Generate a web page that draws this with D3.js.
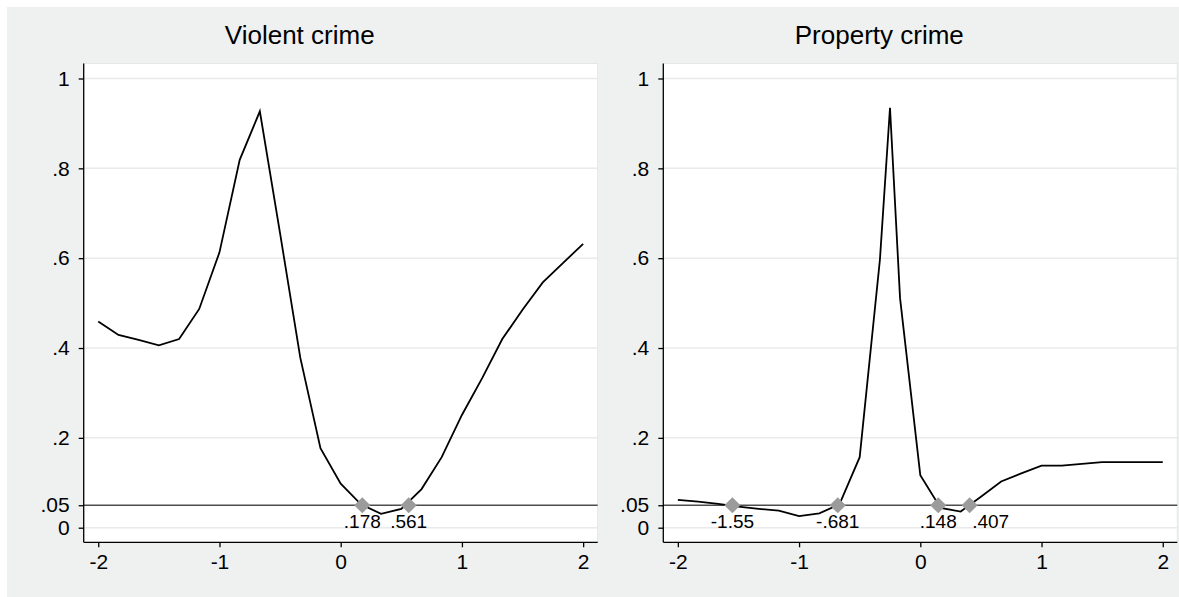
<!DOCTYPE html>
<html>
<head>
<meta charset="utf-8">
<script src="https://cdn.jsdelivr.net/npm/d3@7"></script>
<style>
  body { margin: 0; background: #fff; }
  text { font-family: Arial, "Liberation Sans", sans-serif; fill: #000; }
</style>
</head>
<body>
<div id="chart"></div>
<script>

var width = 1179;
var height = 597;

// grid of x values (steps of 1/6)
var violentX = [-2, -1.833, -1.667, -1.5, -1.333, -1.167, -1, -0.833, -0.667, -0.5, -0.333, -0.167,
                0, 0.167, 0.333, 0.5, 0.667, 0.833, 1, 1.167, 1.333, 1.5, 1.667, 1.833, 2];
var violentY = [0.459, 0.429, 0.418, 0.406, 0.420, 0.487, 0.613, 0.819, 0.927, 0.655, 0.378, 0.177,
                0.098, 0.052, 0.031, 0.042, 0.086, 0.157, 0.251, 0.333, 0.420, 0.485, 0.546, 0.589, 0.632];

var propertyX = [-2, -1.833, -1.667, -1.5, -1.333, -1.167, -1, -0.833, -0.667, -0.5, -0.333, -0.25, -0.167,
                 0, 0.167, 0.333, 0.5, 0.667, 0.833, 1, 1.167, 1.333, 1.5, 1.667, 1.833, 2];
var propertyY = [0.062, 0.058, 0.053, 0.047, 0.042, 0.038, 0.026, 0.032, 0.052, 0.157, 0.597, 0.935, 0.511,
                 0.117, 0.044, 0.036, 0.069, 0.103, 0.121, 0.138, 0.138, 0.142, 0.146, 0.146, 0.146, 0.146];

// crossing points with the .05 line
var violentCross = [0.178, 0.561];
var violentCrossLabels = [".178", ".561"];
var propertyCross = [-1.55, -0.681, 0.148, 0.407];
var propertyCrossLabels = ["-1.55", "-.681", ".148", ".407"];

var yTicks = [0, 0.05, 0.2, 0.4, 0.6, 0.8, 1];
var yTickLabels = ["0", ".05", ".2", ".4", ".6", ".8", "1"];
var gridTicks = [0, 0.2, 0.4, 0.6, 0.8, 1];
var xTicks = [-2, -1, 0, 1, 2];
var xTickLabels = ["-2", "-1", "0", "1", "2"];
var refLevel = 0.05;

var panels = [
  { title: "Violent crime", xs: violentX, ys: violentY, cross: violentCross, crossLabels: violentCrossLabels,
    left: 83.7, labShift: [0, 0] },
  { title: "Property crime", xs: propertyX, ys: propertyY, cross: propertyCross, crossLabels: propertyCrossLabels,
    left: 663.3, labShift: [0, 0, 0, 21] }
];

var plotW = 514;
var plotTop = 63.5, plotBottom = 542.3;

var svg = d3.select("#chart")
  .append("svg")
  .attr("width", width)
  .attr("height", height);

svg.append("rect")
  .attr("x", 7).attr("y", 7)
  .attr("width", width - 7).attr("height", height - 7)
  .attr("fill", "#eff0f0");

var y = d3.scaleLinear().domain([-0.0325, 1.0334]).range([plotBottom, plotTop]);

panels.forEach(function(p) {
  var x = d3.scaleLinear().domain([-2.12, 2.12]).range([p.left, p.left + plotW]);
  var g = svg.append("g");

  g.append("rect")
    .attr("x", p.left).attr("y", plotTop)
    .attr("width", plotW).attr("height", plotBottom - plotTop)
    .attr("fill", "#fff")
    .attr("stroke", "#e6e6e6").attr("stroke-width", 1);

  // gridlines
  g.selectAll(".grid")
    .data(gridTicks)
    .enter().append("line")
      .attr("x1", p.left).attr("x2", p.left + plotW)
      .attr("y1", function(d) { return y(d); })
      .attr("y2", function(d) { return y(d); })
      .attr("stroke", "#eaeaea")
      .attr("stroke-width", 1.5);

  // .05 reference line
  g.append("line")
    .attr("x1", p.left).attr("x2", p.left + plotW)
    .attr("y1", y(refLevel)).attr("y2", y(refLevel))
    .attr("stroke", "#4d4d4d")
    .attr("stroke-width", 1.5);

  // curve
  var line = d3.line()
    .x(function(d, i) { return x(p.xs[i]); })
    .y(function(d) { return y(d); });

  g.append("path")
    .datum(p.ys)
    .attr("d", line)
    .attr("fill", "none")
    .attr("stroke", "#000")
    .attr("stroke-width", 1.8)
    .attr("stroke-linejoin", "miter");

  // diamonds at crossings
  g.selectAll(".mark")
    .data(p.cross)
    .enter().append("path")
      .attr("d", d3.symbol().type(d3.symbolSquare).size(130))
      .attr("transform", function(d) { return "translate(" + x(d) + "," + y(refLevel) + ") rotate(45)"; })
      .attr("fill", "#9b9b9b");

  g.selectAll(".marklab")
    .data(p.cross)
    .enter().append("text")
      .attr("x", function(d, i) { return x(d) + p.labShift[i]; })
      .attr("y", y(refLevel) + 22.5)
      .attr("text-anchor", "middle")
      .style("font-size", "19px")
      .text(function(d, i) { return p.crossLabels[i]; });

  // y axis
  var yAxis = d3.axisLeft(y)
    .tickValues(yTicks)
    .tickSize(5)
    .tickPadding(9)
    .tickFormat(function(d, i) { return yTickLabels[i]; });

  var ya = g.append("g")
    .attr("transform", "translate(" + p.left + ",0)")
    .call(yAxis);
  ya.select(".domain").attr("d", "M0," + plotTop + "V" + plotBottom).attr("stroke-width", 1.3);
  ya.selectAll(".tick line").attr("stroke-width", 1.3);
  ya.selectAll("text").style("font-size", "21px").attr("font-family", null);

  // x axis
  var xAxis = d3.axisBottom(x)
    .tickValues(xTicks)
    .tickSize(5)
    .tickPadding(7)
    .tickFormat(function(d, i) { return xTickLabels[i]; });

  var xa = g.append("g")
    .attr("transform", "translate(0," + plotBottom + ")")
    .call(xAxis);
  xa.select(".domain").attr("d", "M" + p.left + ",0H" + (p.left + plotW)).attr("stroke-width", 1.3);
  xa.selectAll(".tick line").attr("stroke-width", 1.3);
  xa.selectAll("text").style("font-size", "21px").attr("font-family", null);

  // title
  svg.append("text")
    .attr("x", p.left + plotW / 2 - 41)
    .attr("y", 44)
    .attr("text-anchor", "middle")
    .style("font-size", "26px")
    .text(p.title);
});

</script>
</body>
</html>
